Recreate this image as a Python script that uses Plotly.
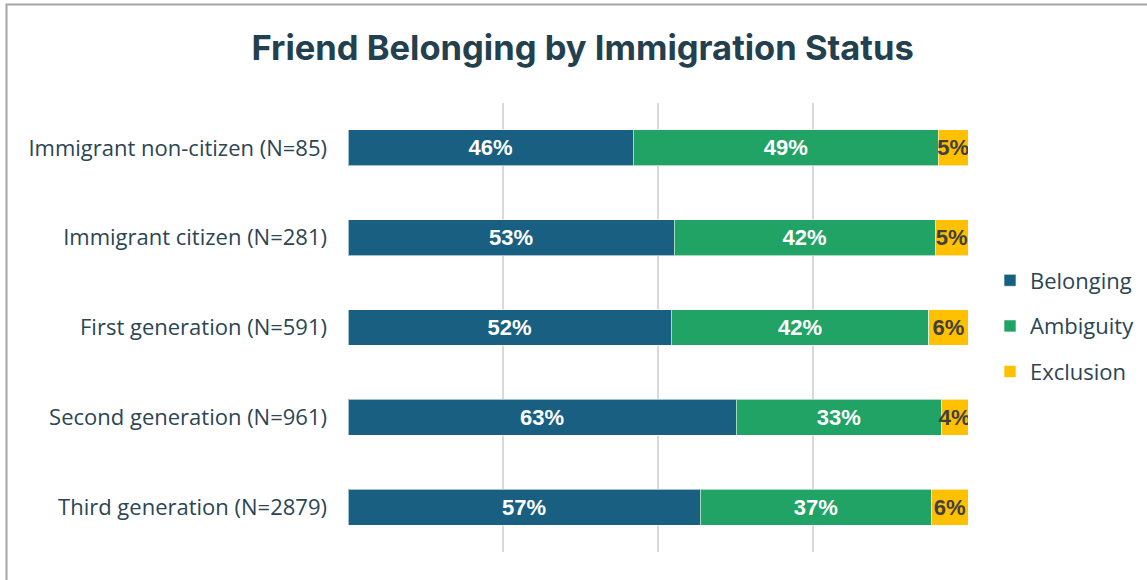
import plotly.graph_objects as go

# categories (top to bottom) and shares in percent
groups = [
    "Immigrant non-citizen (N=85)",
    "Immigrant citizen (N=281)",
    "First generation (N=591)",
    "Second generation (N=961)",
    "Third generation (N=2879)",
]
belonging = [46.0, 52.6, 52.1, 62.6, 56.8]
ambiguity = [49.2, 42.1, 41.6, 33.1, 37.3]
exclusion = [4.8, 5.3, 6.3, 4.3, 5.9]

series = [
    ("Belonging", belonging, "#185f81", "white"),
    ("Ambiguity", ambiguity, "#21a366", "white"),
    ("Exclusion", exclusion, "#ffc000", "#404040"),
]

fig = go.Figure()
for name, vals, color, txt_color in series:
    fig.add_trace(go.Bar(
        y=groups,
        x=vals,
        name=name,
        legendgroup=name,
        orientation="h",
        marker=dict(color=color, line=dict(color="rgba(255,255,255,0.6)", width=1)),
        width=0.4,
        texttemplate="%{x:.0f}%",
        textposition="inside",
        insidetextanchor="middle",
        textangle=0,
        constraintext="none",
        textfont=dict(family="Liberation Sans", size=22, color=txt_color, weight="bold"),
        hoverinfo="skip",
    ))

fig.update_layout(
    width=1147,
    height=580,
    barmode="stack",
    plot_bgcolor="white",
    paper_bgcolor="white",
    margin=dict(l=348, r=179, t=103, b=28),
    title=dict(
        text="<b>Friend Belonging by Immigration Status</b>",
        x=0.508, xanchor="center",
        y=0.918, yanchor="middle",
        font=dict(family="Inter", size=34.5, color="#23404e"),
    ),
    legend=dict(
        xref="container", x=990 / 1147, xanchor="left",
        yref="container", y=1 - 326 / 580, yanchor="middle",
        traceorder="grouped",
        tracegroupgap=14,
        font=dict(family="Open Sans", size=22, color="#2b4553"),
    ),
    showlegend=True,
)

fig.update_xaxes(
    range=[0, 100],
    tickvals=[0, 25, 50, 75, 100],
    showticklabels=False,
    showgrid=True,
    gridcolor="#d9d9d9",
    gridwidth=1.5,
    zeroline=False,
    fixedrange=True,
    automargin=False,
)
fig.update_yaxes(
    autorange="reversed",
    showgrid=False,
    ticks="",
    ticklabelstandoff=20,
    tickfont=dict(family="Open Sans", size=22, color="#2b4553"),
    fixedrange=True,
    automargin=False,
)

# outer chart border (left and top visible, rest beyond the frame)
fig.add_shape(
    type="rect", xref="paper", yref="paper",
    x0=(6.5 - 348) / 620, x1=(1160 - 348) / 620,
    y0=-0.2, y1=1 + (103 - 4.5) / 449,
    line=dict(color="#a6a6a6", width=2),
    layer="below",
)

# drop the default page margin so the figure sits at the window's corner
fig.write_html(
    "out.html",
    config={"displayModeBar": False},
    post_script="document.body.style.margin='0';document.body.style.overflow='hidden';",
)
